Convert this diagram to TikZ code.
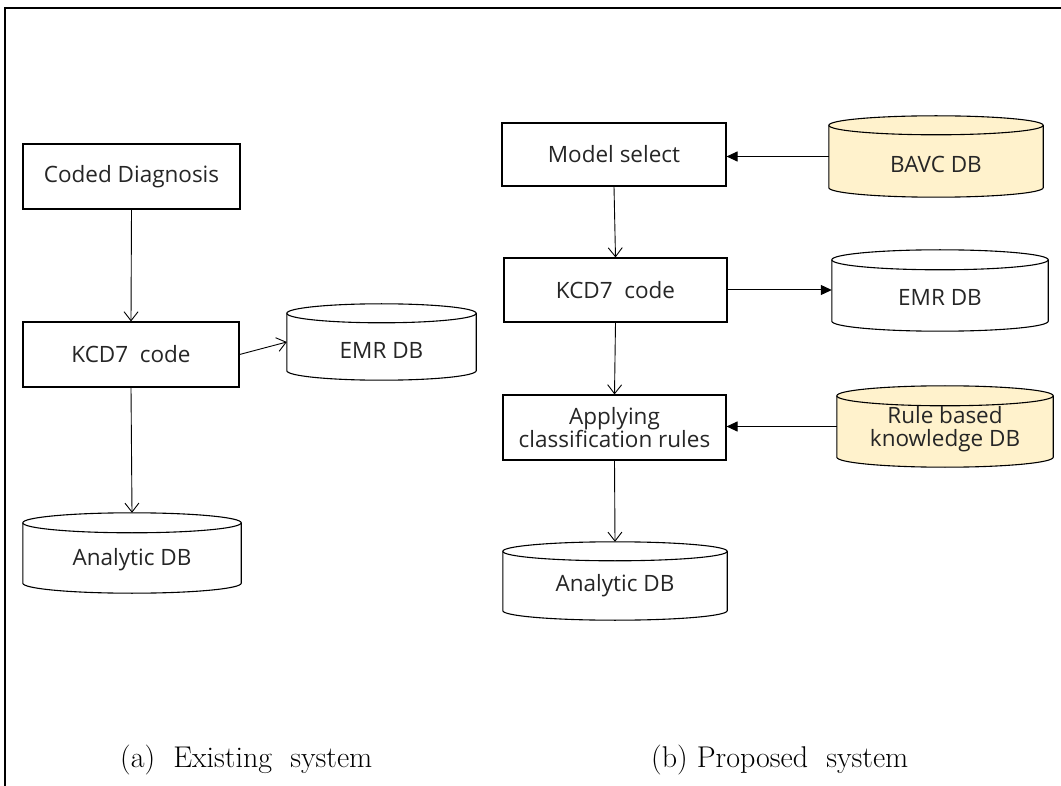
\documentclass[tikz,border=0pt]{standalone}
\usepackage{fontspec}
\setmainfont{Latin Modern Roman}
\newfontfamily\boxfont{Open Sans}
\usetikzlibrary{arrows.meta,calc}

\definecolor{dbyellow}{HTML}{FFF2CC}
\definecolor{boxtext}{HTML}{262626}

\tikzset{
  procbox/.style={draw, line width=1.1pt, fill=white, inner sep=0pt, text=boxtext,
    font=\boxfont\fontsize{22.5}{26}\selectfont, align=center},
  dbbody/.style={inner sep=0pt, draw=none},
  dbtext/.style={inner sep=0pt, text=boxtext, font=\boxfont\fontsize{22.5}{26}\selectfont, align=center},
  openarrow/.style={line width=0.9pt, -{Straight Barb[length=9pt,width=14pt,line width=0.9pt]}},
  solidarrow/.style={line width=1pt, -{Triangle[length=11pt,width=10pt]}},
  caption/.style={inner sep=0pt, font=\fontsize{30}{34}\selectfont}
}

% cylinder drawn around a named body node: #1 node, #2 fill, #3 ellipse y radius
\newcommand\dbcylinder[3]{%
  \path[draw, line width=1.1pt, fill=#2]
    let \p1=($(#1.north east)-(#1.north west)$) in
    (#1.north west) -- (#1.south west)
    arc[start angle=180, end angle=360, x radius=0.5*\x1, y radius=#3]
    -- (#1.north east)
    arc[start angle=0, end angle=180, x radius=0.5*\x1, y radius=#3]
    -- cycle;
  \draw[line width=1.1pt]
    let \p1=($(#1.north east)-(#1.north west)$) in
    (#1.north west)
    arc[start angle=180, end angle=360, x radius=0.5*\x1, y radius=#3];
}

\begin{document}
\begin{tikzpicture}[x=1pt, y=-1pt]
  \useasboundingbox (0,0) rectangle (1061,786);
  \fill[white] (0,0) rectangle (1061,786);

  % outer frame
  \draw[line width=1.4pt] (5,786) -- (5,8) -- (1061,8);

  % ---------- (a) existing system ----------
  \node[procbox, minimum width=217pt, minimum height=65pt] (cd) at (131.5,176.5) {Coded Diagnosis};
  \node[procbox, minimum width=216pt, minimum height=65pt] (kcdA) at (131,354.5) {KCD7~~code};

  \node[dbbody, minimum width=189pt, minimum height=57pt] (emrA) at (381.5,342) {};
  \dbcylinder{emrA}{white}{9.5pt}
  \node[dbtext] (emrAt) at ([yshift=-8pt]emrA.center) {EMR DB};

  \node[dbbody, minimum width=218pt, minimum height=60pt] (anA) at (132,553) {};
  \dbcylinder{anA}{white}{10pt}
  \node[dbtext] (anAt) at ([yshift=-7pt]anA.center) {Analytic DB};

  \draw[openarrow] (cd.south) -- (kcdA.north);
  \draw[openarrow] (kcdA.east) -- (emrA.west);
  \draw[openarrow] (kcdA.south) -- ([yshift=10pt]anA.north);

  % ---------- (b) proposed system ----------
  \node[procbox, minimum width=224pt, minimum height=63pt] (model) at (614,154.5) {Model select};
  \node[procbox, minimum width=223pt, minimum height=64pt] (kcdB) at (615.5,290) {KCD7~~code};
  \node[procbox, minimum width=223pt, minimum height=65pt] (apply) at (614.5,427.5) {Applying\\[-3pt]classification rules};

  \node[dbbody, minimum width=214pt, minimum height=62pt] (bavc) at (936,156.5) {};
  \dbcylinder{bavc}{dbyellow}{9.5pt}
  \node[dbtext] (bavct) at ([yshift=-8pt]bavc.center) {BAVC DB};

  \node[dbbody, minimum width=216pt, minimum height=61pt] (emrB) at (940,290.5) {};
  \dbcylinder{emrB}{white}{10pt}
  \node[dbtext] (emrBt) at ([yshift=-7pt]emrB.center) {EMR DB};

  \node[dbbody, minimum width=216pt, minimum height=61pt] (rule) at (945,426.5) {};
  \dbcylinder{rule}{dbyellow}{10pt}
  \node[dbtext] (rulet) at ([yshift=-3pt]rule.center) {Rule based\\[-3pt]knowledge DB};

  \node[dbbody, minimum width=224pt, minimum height=59pt] (anB) at (615,581) {};
  \dbcylinder{anB}{white}{9.5pt}
  \node[dbtext] (anBt) at ([yshift=-5pt]anB.center) {Analytic DB};

  \draw[openarrow] (model.south) -- (kcdB.north);
  \draw[openarrow] (kcdB.south) -- (apply.north);
  \draw[openarrow] (apply.south) -- ([yshift=9.5pt]anB.north);
  \draw[solidarrow] (bavc.west) -- (bavc.west -| model.east);
  \draw[solidarrow] (kcdB.east) -- (kcdB.east -| emrB.west);
  \draw[solidarrow] (rule.west) -- (rule.west -| apply.east);

  % captions
  \node[caption, anchor=west] (capA) at (120,760) {(a)~~Existing~~system};
  \node[caption, anchor=west] (capB) at (651,760) {(b)~Proposed~~system};
\end{tikzpicture}
\end{document}
